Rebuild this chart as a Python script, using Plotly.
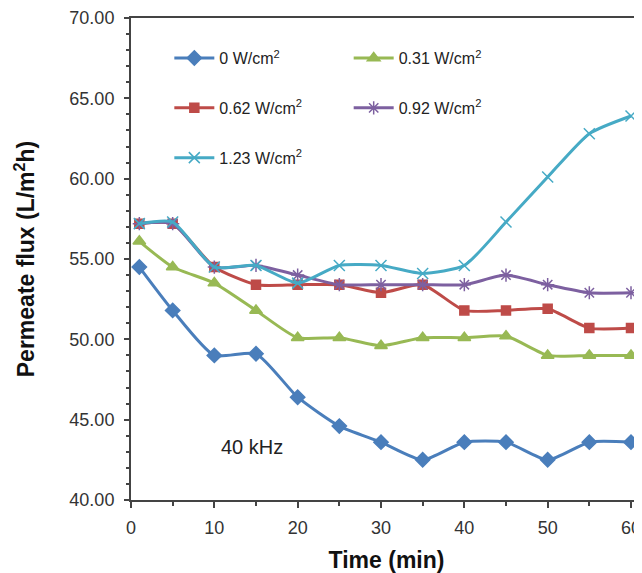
import plotly.graph_objects as go

time = [1, 5, 10, 15, 20, 25, 30, 35, 40, 45, 50, 55, 60]
flux_0 = [54.5, 51.8, 49.0, 49.1, 46.4, 44.6, 43.6, 42.5, 43.6, 43.6, 42.5, 43.6, 43.6]
flux_031 = [56.1, 54.5, 53.5, 51.8, 50.1, 50.1, 49.6, 50.1, 50.1, 50.2, 49.0, 49.0, 49.0]
flux_062 = [57.2, 57.2, 54.5, 53.4, 53.4, 53.4, 52.9, 53.4, 51.8, 51.8, 51.9, 50.7, 50.7]
flux_092 = [57.2, 57.2, 54.5, 54.6, 54.0, 53.4, 53.4, 53.4, 53.4, 54.0, 53.4, 52.9, 52.9]
flux_123 = [57.2, 57.3, 54.5, 54.6, 53.5, 54.6, 54.6, 54.1, 54.6, 57.3, 60.1, 62.8, 63.9]

labels = ["0 W/cm<sup>2</sup>", "0.31 W/cm<sup>2</sup>", "0.62 W/cm<sup>2</sup>",
          "0.92 W/cm<sup>2</sup>", "1.23 W/cm<sup>2</sup>"]
series = [flux_0, flux_031, flux_062, flux_092, flux_123]
colors = ["#4a7ebb", "#98b954", "#be4b48", "#7d60a0", "#46aac5"]
symbols = ["diamond", "triangle-up", "square", "asterisk-open", "x-thin-open"]
msizes = [11, 11, 9, 11, 11]
legends = ["legend", "legend2", "legend", "legend2", "legend"]

fig = go.Figure()
for i in range(5):
    fig.add_trace(go.Scatter(
        x=time, y=series[i], name=labels[i], mode="lines+markers",
        line=dict(color=colors[i], width=3, shape="spline", smoothing=0.6),
        marker=dict(symbol=symbols[i], size=msizes[i], color=colors[i],
                    line=dict(color=colors[i], width=1.5)),
        legend=legends[i], legendgroup="g%d" % i,
    ))

font = "Liberation Sans, Arial, sans-serif"
leg_common = dict(font=dict(family=font, size=16, color="#222"),
                  bgcolor="rgba(0,0,0,0)", tracegroupgap=26,
                  xanchor="left", yanchor="top", itemwidth=40)
fig.update_layout(
    width=634, height=565,
    margin=dict(l=123, r=0, t=10, b=73),
    paper_bgcolor="white", plot_bgcolor="white",
    font=dict(family=font, color="#222"),
    legend=dict(x=0.075, y=0.952, **leg_common),
    legend2=dict(x=0.426, y=0.952, **leg_common),
    xaxis=dict(range=[0, 61.32], tickvals=[0, 10, 20, 30, 40, 50, 60],
               showgrid=False, zeroline=False,
               showline=True, linecolor="#444", linewidth=2, mirror=True,
               ticks="outside", ticklen=6, tickwidth=2, tickcolor="#444",
               ticklabelstandoff=4, ticklabeloverflow="allow",
               minor=dict(dtick=5, tick0=0, ticks="outside", ticklen=4, tickwidth=2, tickcolor="#444"),
               tickfont=dict(size=18, color="#333"),
               title=dict(text="<b>Time (min)</b>", font=dict(size=23, color="#111"), standoff=16)),
    yaxis=dict(range=[40, 70], dtick=5, tickformat=".2f",
               showgrid=False, zeroline=False,
               showline=True, linecolor="#444", linewidth=2,
               ticks="outside", ticklen=5, tickwidth=2, tickcolor="#444",
               ticklabelstandoff=6, ticklabeloverflow="allow",
               minor=dict(dtick=1, ticks="outside", ticklen=3, tickwidth=1.5, tickcolor="#444"),
               tickfont=dict(size=18, color="#333"),
               title=dict(text="<b>Permeate flux (L/m<sup>2</sup>h)</b>", font=dict(size=23, color="#111"), standoff=28)),
    annotations=[dict(x=14.5, y=43.3, xref="x", yref="y", text="40 kHz", showarrow=False,
                      font=dict(size=20, color="#222"))],
)

fig.write_html("out.html")
